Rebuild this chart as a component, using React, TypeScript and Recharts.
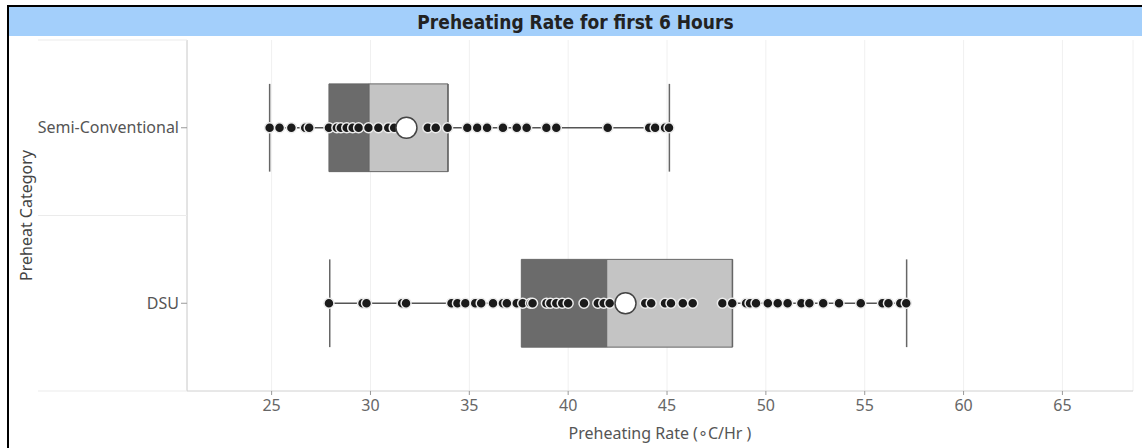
import React from 'react';
import { ScatterChart, Scatter, XAxis, YAxis, CartesianGrid, ReferenceArea, ReferenceLine } from 'recharts';

const categories = ['DSU', 'Semi-Conventional'];
const categoryPositions = [0.5, 1.5];
const xTicks = [25, 30, 35, 40, 45, 50, 55, 60, 65];
const xDomain = [20.72, 68.57];

const semiValues = [24.9, 25.4, 26.0, 26.7, 26.9, 27.9, 28.3, 28.5, 28.8, 29.1, 29.4, 29.9, 30.4, 30.9, 31.2, 32.9, 33.3, 33.9, 34.9, 35.4, 35.9, 36.7, 37.4, 37.9, 38.9, 39.4, 42.0, 44.1, 44.4, 44.9, 45.1];
const dsuValues = [27.9, 29.6, 29.8, 31.6, 31.8, 34.1, 34.4, 34.8, 35.3, 35.6, 36.2, 36.7, 36.9, 37.4, 37.7, 38.1, 38.2, 38.9, 39.1, 39.4, 39.7, 40.0, 40.8, 41.5, 41.8, 42.1, 43.9, 44.2, 44.9, 45.2, 45.8, 46.3, 47.8, 48.3, 49.0, 49.2, 49.5, 50.1, 50.6, 51.1, 51.8, 52.2, 52.9, 53.7, 54.8, 55.9, 56.2, 56.8, 57.1];

// [whiskerLow, q1, median, q3, whiskerHigh, mean]
const semiStats = [24.9, 27.9, 29.93, 33.92, 45.12, 31.82];
const dsuStats = [27.94, 37.63, 41.95, 48.31, 57.12, 42.9];

const title = 'Preheating Rate for first 6 Hours';
const xLabel = 'Preheating Rate (\u2218C/Hr )';
const yLabel = 'Preheat Category';

const FONT = "'Segoe UI', 'Noto Sans', sans-serif";
const BOX_HALF = 0.25;

const groups = [
  { values: dsuValues, stats: dsuStats, pos: categoryPositions[0] },
  { values: semiValues, stats: semiStats, pos: categoryPositions[1] },
];

const dotData = groups.flatMap((g) => g.values.map((v) => ({ x: v, y: g.pos })));
const meanData = groups.map((g) => ({ x: g.stats[5], y: g.pos }));

const Dot = (props: any) => (
  <circle cx={props.cx} cy={props.cy} r={5} fill="#1a1a1a" stroke="#ececec" strokeWidth={1.5} />
);
const MeanDot = (props: any) => (
  <circle cx={props.cx} cy={props.cy} r={10.5} fill="#ffffff" stroke="#444" strokeWidth={1.5} />
);

const YTick = (props: any) => {
  const { x, y, payload } = props;
  const idx = categoryPositions.indexOf(payload.value);
  if (idx >= 0) {
    return (
      <g>
        <text x={x} y={y} dy="0.35em" textAnchor="end" fontSize={16} fill="#555" fontFamily={FONT}>
          {categories[idx]}
        </text>
        <line x1={x + 2} x2={x + 8} y1={y} y2={y} stroke="#999" />
      </g>
    );
  }
  return <line x1={x - 141} x2={x + 8} y1={y} y2={y} stroke="#ebebeb" />;
};

const YLabel = (props: any) => {
  const vb = props.viewBox;
  const cx = vb.x + 26;
  const cy = vb.y + vb.height / 2;
  return (
    <text x={cx} y={cy} transform={`rotate(-90 ${cx} ${cy})`} textAnchor="middle" dominantBaseline="central" fontSize={16} fill="#444" fontFamily={FONT}>
      {yLabel}
    </text>
  );
};

export default function App() {
  return (
    <div style={{ position: 'relative', width: 1142, height: 448, overflow: 'hidden', background: '#fff' }}>
      <style>{'body{margin:0;overflow:hidden}'}</style>
      <div style={{ position: 'absolute', left: 7, top: 5, width: 1200, height: 500, borderLeft: '2px solid #000', borderTop: '2px solid #000' }} />
      <div
        style={{
          position: 'absolute', left: 9, top: 7, width: 1133, height: 29, background: '#a3cffb',
          display: 'flex', alignItems: 'center', justifyContent: 'center',
          fontFamily: "'DejaVu Sans Condensed', 'DejaVu Sans', sans-serif", fontWeight: 'bold', fontSize: 19, color: '#222',
        }}
      >
        {title}
      </div>
      <div style={{ position: 'absolute', left: 0, top: 0 }}>
        <ScatterChart width={1142} height={448} margin={{ top: 40, right: 9, bottom: 0, left: 0 }}>
          <CartesianGrid horizontal={false} vertical stroke="#f0f0f0" />
          <XAxis
            type="number"
            dataKey="x"
            domain={xDomain}
            ticks={xTicks}
            allowDataOverflow
            height={57}
            tickSize={4}
            tickMargin={5}
            stroke="#d0d0d0"
            tick={{ fill: '#666', fontSize: 16, fontFamily: FONT }}
            tickLine={{ stroke: '#999' }}
            label={{ value: xLabel, position: 'insideBottom', offset: 9, fill: '#555', fontSize: 16, fontFamily: FONT }}
          />
          <YAxis
            type="number"
            dataKey="y"
            domain={[0, 2]}
            ticks={[0, 0.5, 1, 1.5, 2]}
            interval={0}
            allowDataOverflow
            width={187}
            tickLine={false}
            stroke="#d0d0d0"
            tick={<YTick />}
            label={<YLabel />}
          />
          {groups.map((g, i) => (
            <ReferenceArea key={`a${i}`} x1={g.stats[1]} x2={g.stats[2]} y1={g.pos - BOX_HALF} y2={g.pos + BOX_HALF} fill="#6b6b6b" fillOpacity={1} stroke="#666" strokeWidth={1} />
          ))}
          {groups.map((g, i) => (
            <ReferenceArea key={`b${i}`} x1={g.stats[2]} x2={g.stats[3]} y1={g.pos - BOX_HALF} y2={g.pos + BOX_HALF} fill="#c4c4c4" fillOpacity={1} stroke="#666" strokeWidth={1} />
          ))}
          {groups.map((g, i) => (
            <ReferenceLine key={`l${i}`} segment={[{ x: g.stats[0], y: g.pos }, { x: g.stats[1], y: g.pos }]} stroke="#555" strokeWidth={1.5} />
          ))}
          {groups.map((g, i) => (
            <ReferenceLine key={`r${i}`} segment={[{ x: g.stats[3], y: g.pos }, { x: g.stats[4], y: g.pos }]} stroke="#555" strokeWidth={1.5} />
          ))}
          {groups.map((g, i) => (
            <ReferenceLine key={`wl${i}`} segment={[{ x: g.stats[0], y: g.pos - BOX_HALF }, { x: g.stats[0], y: g.pos + BOX_HALF }]} stroke="#666" strokeWidth={1.5} />
          ))}
          {groups.map((g, i) => (
            <ReferenceLine key={`wh${i}`} segment={[{ x: g.stats[4], y: g.pos - BOX_HALF }, { x: g.stats[4], y: g.pos + BOX_HALF }]} stroke="#666" strokeWidth={1.5} />
          ))}
          {groups.map((g, i) => (
            <ReferenceLine key={`q3${i}`} segment={[{ x: g.stats[3], y: g.pos - BOX_HALF }, { x: g.stats[3], y: g.pos + BOX_HALF }]} stroke="#666" strokeWidth={1.5} />
          ))}
          <Scatter data={dotData} shape={<Dot />} isAnimationActive={false} />
          <Scatter data={meanData} shape={<MeanDot />} isAnimationActive={false} />
        </ScatterChart>
      </div>
    </div>
  );
}
